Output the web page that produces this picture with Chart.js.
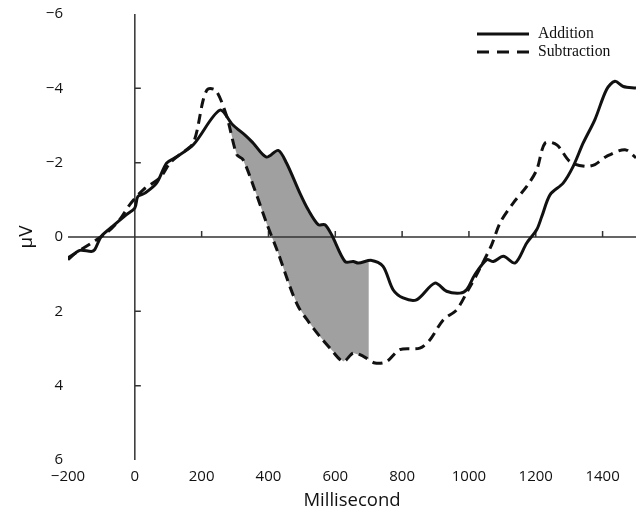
<!DOCTYPE html>
<html>
<head>
<meta charset="utf-8">
<script src="https://cdn.jsdelivr.net/npm/chart.js@4.4.1/dist/chart.umd.min.js"></script>
<style>
  html, body { margin: 0; padding: 0; background: #fff; }
  #wrap { width: 640px; height: 513px; }
</style>
</head>
<body>
<div id="wrap"><canvas id="erp" width="640" height="513"></canvas></div>
<script>
// values: time in ms, amplitude in µV
const additionMs = [-200, -165, -130, -120, -100, -66, -25, 0, 9, 30, 65, 95, 120, 175, 254, 293, 334, 354, 394, 429, 454, 494, 519, 549, 569, 589, 629, 654, 669, 709, 743, 773, 803, 843, 898, 933, 973, 993, 1018, 1053, 1073, 1103, 1138, 1173, 1203, 1218, 1243, 1282, 1312, 1342, 1377, 1412, 1437, 1462, 1500];
const additionUv = [0.61, 0.36, 0.39, 0.34, -0.02, -0.29, -0.6, -0.78, -1.09, -1.18, -1.45, -1.99, -2.13, -2.48, -3.41, -3.02, -2.71, -2.53, -2.15, -2.33, -1.99, -1.18, -0.73, -0.33, -0.33, -0.06, 0.66, 0.66, 0.7, 0.63, 0.79, 1.42, 1.64, 1.69, 1.24, 1.46, 1.51, 1.42, 1.01, 0.61, 0.66, 0.52, 0.7, 0.16, -0.2, -0.55, -1.14, -1.45, -1.9, -2.53, -3.16, -3.97, -4.19, -4.05, -4.01];

const subtractionMs = [-200, -85, -45, -15, 25, 75, 105, 135, 175, 205, 219, 243, 275, 305, 324, 359, 394, 429, 464, 489, 519, 554, 584, 624, 654, 684, 719, 754, 793, 853, 883, 923, 963, 998, 1028, 1068, 1093, 1133, 1173, 1203, 1228, 1263, 1302, 1347, 1377, 1412, 1467, 1500];
const subtractionUv = [0.56, -0.11, -0.47, -0.87, -1.27, -1.59, -1.99, -2.22, -2.53, -3.7, -3.98, -3.94, -3.25, -2.22, -2.08, -1.27, -0.38, 0.43, 1.33, 1.87, 2.27, 2.68, 2.99, 3.35, 3.12, 3.21, 3.39, 3.35, 3.03, 2.99, 2.77, 2.23, 1.96, 1.42, 0.93, 0.21, -0.38, -0.92, -1.36, -1.81, -2.53, -2.48, -2.03, -1.9, -1.95, -2.17, -2.35, -2.13];

const seriesNames = ['Addition', 'Subtraction'];
const xTicks = [-200, 0, 200, 400, 600, 800, 1000, 1200, 1400];
const yTicks = [-6, -4, -2, 0, 2, 4, 6];
const shadeFrom = 280;
const shadeTo = 700;

const toPoints = (ms, uv) => ms.map((t, i) => ({ x: t, y: uv[i] }));
const minus = v => String(v).replace('-', '\u2212');

// shaded window + axes crossing at zero, drawn under the curves
const zeroAxes = {
    id: 'zeroAxes',
    beforeDatasetsDraw(chart) {
        const { ctx, chartArea } = chart;
        const xs = chart.scales.x;
        const ys = chart.scales.y;
        const x0 = xs.getPixelForValue(0);
        const y0 = ys.getPixelForValue(0);

        ctx.save();
        const left = xs.getPixelForValue(shadeFrom);
        const right = xs.getPixelForValue(shadeTo);
        ctx.beginPath();
        ctx.rect(left, chartArea.top, right - left, chartArea.bottom - chartArea.top);
        ctx.clip();
        ctx.beginPath();
        additionMs.forEach((t, i) => {
            const px = xs.getPixelForValue(t), py = ys.getPixelForValue(additionUv[i]);
            if (i === 0) ctx.moveTo(px, py); else ctx.lineTo(px, py);
        });
        for (let i = subtractionMs.length - 1; i >= 0; i--) {
            ctx.lineTo(xs.getPixelForValue(subtractionMs[i]), ys.getPixelForValue(subtractionUv[i]));
        }
        ctx.closePath();
        ctx.fillStyle = '#a0a0a0';
        ctx.fill();
        ctx.restore();

        ctx.save();
        ctx.strokeStyle = '#333';
        ctx.lineWidth = 1.5;
        ctx.beginPath();
        ctx.moveTo(xs.left, y0);
        ctx.lineTo(xs.right, y0);
        ctx.moveTo(x0, ys.top);
        ctx.lineTo(x0, ys.bottom);
        xTicks.forEach(v => {
            if (v <= 0) return;
            const px = xs.getPixelForValue(v);
            ctx.moveTo(px, y0);
            ctx.lineTo(px, y0 - 6);
        });
        yTicks.forEach(v => {
            if (v === 0 || Math.abs(v) === 6) return;
            const py = ys.getPixelForValue(v);
            ctx.moveTo(x0, py);
            ctx.lineTo(x0 + 6, py);
        });
        ctx.stroke();
        ctx.restore();
    }
};

// small legend in the top right corner
const cornerLegend = {
    id: 'cornerLegend',
    afterDraw(chart) {
        const ctx = chart.ctx;
        const rows = [{ y: 34, dash: [] }, { y: 52, dash: [12, 8] }];
        ctx.save();
        ctx.strokeStyle = '#111';
        ctx.fillStyle = '#111';
        ctx.lineWidth = 3;
        ctx.font = '15.7px "Liberation Serif", "Times New Roman", serif';
        ctx.textBaseline = 'middle';
        rows.forEach((row, i) => {
            ctx.setLineDash(row.dash);
            ctx.beginPath();
            ctx.moveTo(477, row.y);
            ctx.lineTo(529, row.y);
            ctx.stroke();
            ctx.fillText(seriesNames[i], 538, row.y);
        });
        ctx.restore();
    }
};

const tickFont = { family: '"Open Sans", sans-serif', size: 15 };

new Chart(document.getElementById('erp'), {
    type: 'line',
    data: {
        datasets: [
            {
                label: seriesNames[0],
                data: toPoints(additionMs, additionUv),
                borderColor: '#111',
                borderWidth: 3,
                pointRadius: 0,
                tension: 0.3,
                fill: false
            },
            {
                label: seriesNames[1],
                data: toPoints(subtractionMs, subtractionUv),
                borderColor: '#111',
                borderWidth: 3,
                borderDash: [10, 6],
                pointRadius: 0,
                tension: 0.3,
                fill: false
            }
        ]
    },
    options: {
        responsive: false,
        animation: false,
        devicePixelRatio: 1,
        layout: { padding: { top: 14, right: 4, left: 0, bottom: 0 } },
        plugins: {
            legend: { display: false },
            tooltip: { enabled: false }
        },
        scales: {
            x: {
                type: 'linear',
                min: -200,
                max: 1500,
                grid: { display: false, drawTicks: false },
                border: { display: false },
                afterBuildTicks: s => { s.ticks = xTicks.map(v => ({ value: v })); },
                afterFit: s => { s.height = 53; },
                ticks: {
                    color: '#111',
                    font: tickFont,
                    padding: 8,
                    maxRotation: 0,
                    callback: v => minus(v)
                },
                title: {
                    display: true,
                    text: 'Millisecond',
                    color: '#111',
                    font: { family: '"Open Sans", sans-serif', size: 18.5 },
                    padding: { top: 0, bottom: 1 }
                }
            },
            y: {
                type: 'linear',
                min: -6,
                max: 6,
                reverse: true,
                grid: { display: false, drawTicks: false },
                border: { display: false },
                afterBuildTicks: s => { s.ticks = yTicks.map(v => ({ value: v })); },
                afterFit: s => { s.width = 68; },
                ticks: {
                    color: '#111',
                    font: tickFont,
                    padding: 5,
                    callback: v => minus(v)
                },
                title: {
                    display: true,
                    text: 'µV',
                    color: '#111',
                    font: { family: '"Open Sans", sans-serif', size: 19 },
                    padding: { top: 15, bottom: 0 }
                }
            }
        }
    },
    plugins: [zeroAxes, cornerLegend]
});
</script>
</body>
</html>
